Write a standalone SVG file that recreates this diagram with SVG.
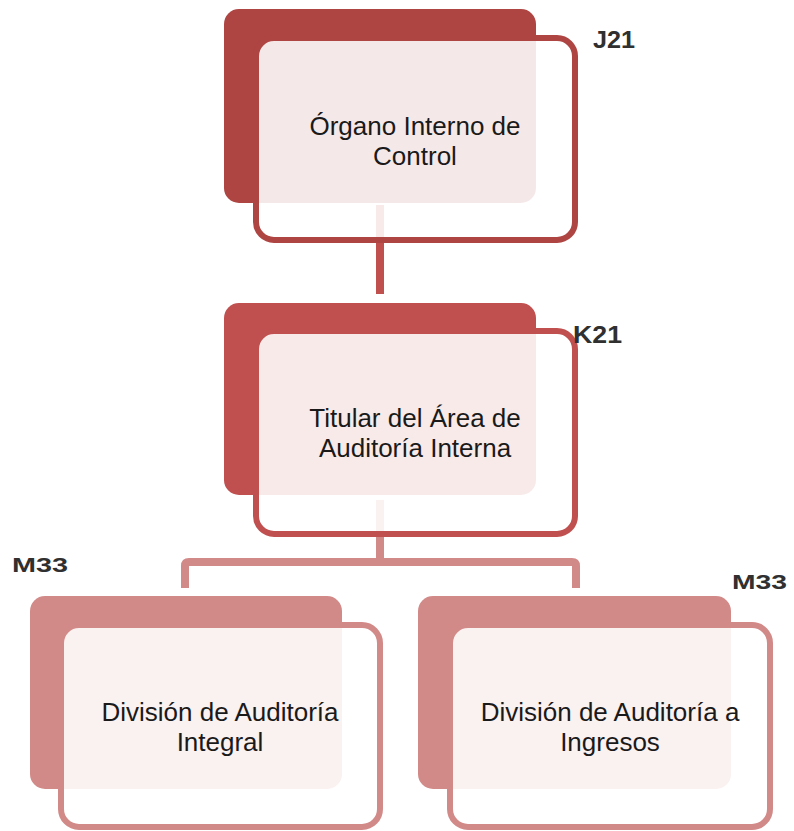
<svg xmlns="http://www.w3.org/2000/svg" width="794" height="831" viewBox="0 0 794 831">
<style>
.back{stroke:none}
.front{fill:#ffffff;fill-opacity:0.88;stroke-width:6}
.t{font-family:"Liberation Sans",Arial,sans-serif;font-size:26px;fill:#1a1a1a;text-anchor:middle}
.lbl{font-family:"Liberation Sans",Arial,sans-serif;font-weight:bold;fill:#303030}
.c1{stroke:#c0504d;stroke-width:8;fill:none}
.c2{stroke:#d28a88;stroke-width:8;fill:none;stroke-linejoin:round}
</style>
<rect width="794" height="831" fill="#ffffff"/>
<g id="connectors">
<line class="c1" x1="380" y1="205" x2="380" y2="294"/>
<line class="c2" x1="380" y1="500" x2="380" y2="562"/>
<path class="c2" d="M185,588 V566 Q185,562 189,562 H572 Q576,562 576,566 V588"/>
</g>
<g id="n1">
<rect class="back" x="224" y="9" width="312" height="194" rx="15" fill="#ae4543"/>
<rect class="front" x="256" y="38" width="319" height="202" rx="18" stroke="#ae4543"/>
<text class="t" x="415" y="135">Órgano Interno de</text>
<text class="t" x="415" y="164.5">Control</text>
<text class="lbl" x="593" y="48" font-size="23" textLength="42" lengthAdjust="spacingAndGlyphs">J21</text>
</g>
<g id="n2">
<rect class="back" x="224" y="303" width="312" height="192" rx="15" fill="#c0504f"/>
<rect class="front" x="256" y="331" width="319" height="203" rx="18" stroke="#c0504f"/>
<text class="t" x="415" y="427">Titular del Área de</text>
<text class="t" x="415" y="456.5">Auditoría Interna</text>
<text class="lbl" x="573" y="343" font-size="23" textLength="49" lengthAdjust="spacingAndGlyphs">K21</text>
</g>
<g id="n3">
<rect class="back" x="30" y="596" width="312" height="193" rx="15" fill="#d28a88"/>
<rect class="front" x="61" y="625" width="319" height="202" rx="18" stroke="#d28a88"/>
<text class="t" x="220" y="721">División de Auditoría</text>
<text class="t" x="220" y="750.5">Integral</text>
<text class="lbl" x="12" y="572" font-size="21" textLength="56" lengthAdjust="spacingAndGlyphs">M33</text>
</g>
<g id="n4">
<rect class="back" x="418" y="596" width="313" height="193" rx="15" fill="#d28a88"/>
<rect class="front" x="450" y="625" width="320" height="202" rx="18" stroke="#d28a88"/>
<text class="t" x="610" y="721">División de Auditoría a</text>
<text class="t" x="610" y="750.5">Ingresos</text>
<text class="lbl" x="732" y="589" font-size="21" textLength="55" lengthAdjust="spacingAndGlyphs">M33</text>
</g>
</svg>
